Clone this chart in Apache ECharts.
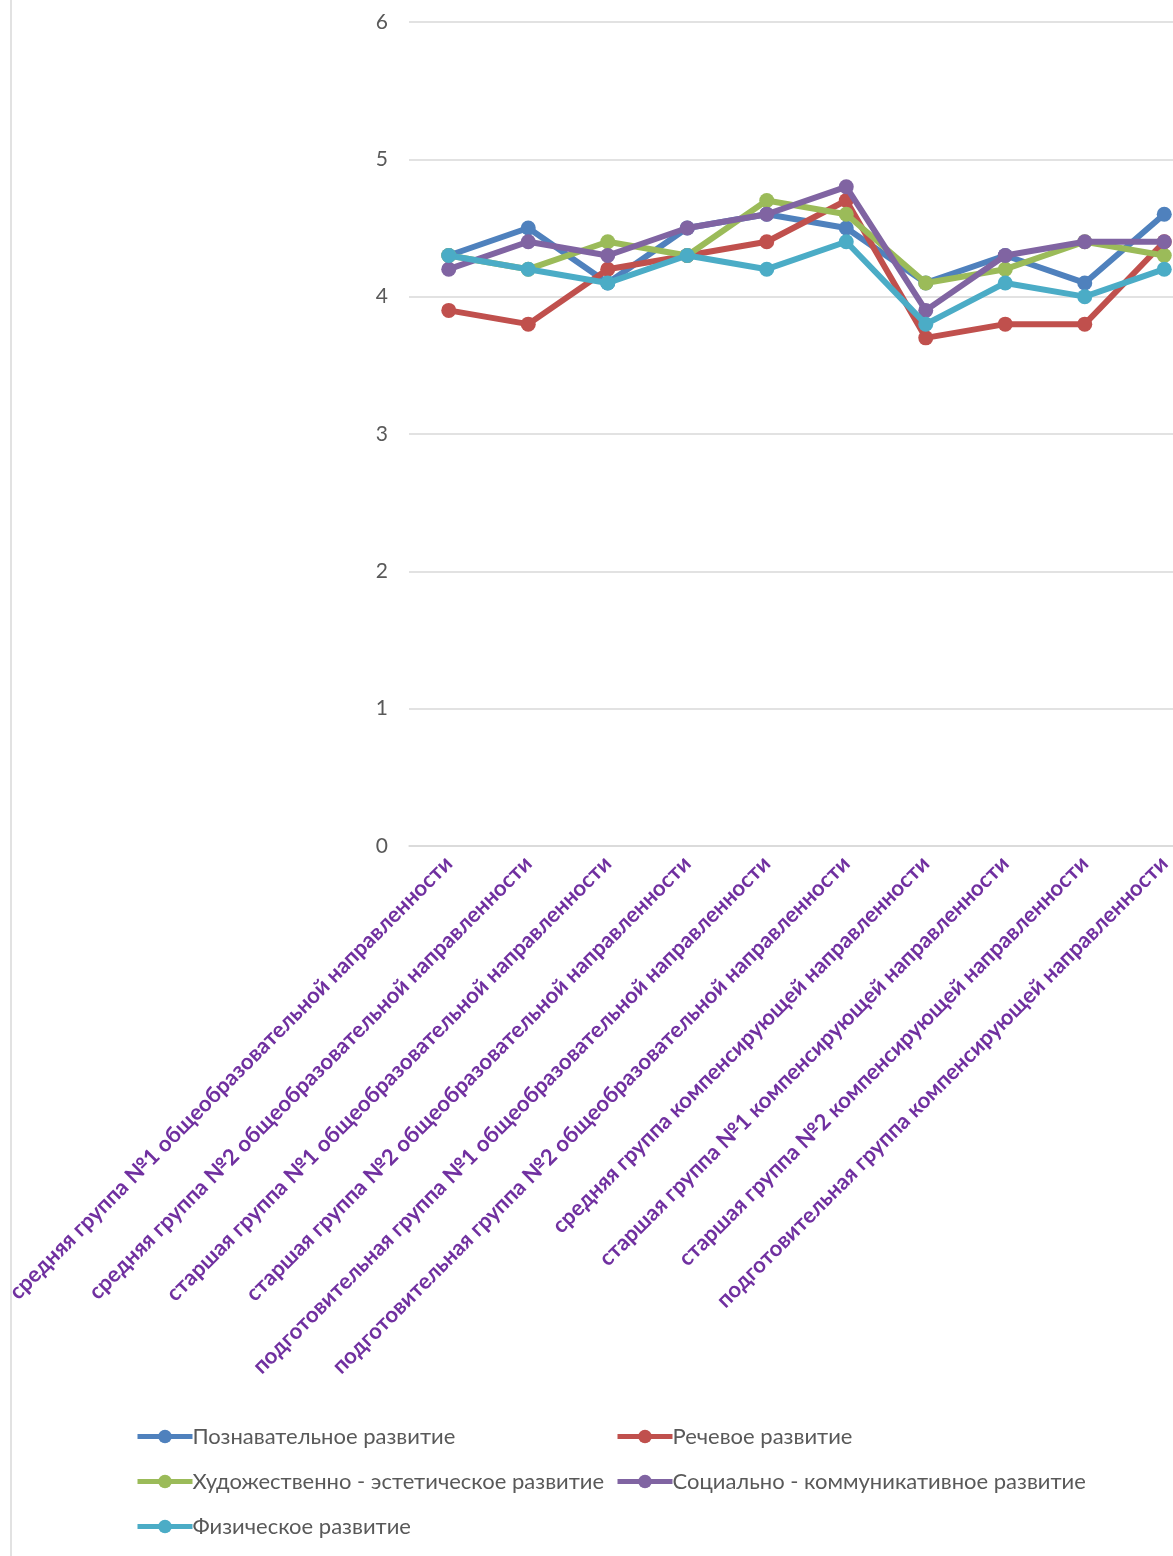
<!DOCTYPE html>
<html>
<head>
<meta charset="utf-8">
<script src="https://cdn.jsdelivr.net/npm/echarts@6/dist/echarts.min.js"></script>
<style>
html,body{margin:0;padding:0;background:#fff;overflow:hidden;}
#c{width:1215px;height:1556px;}
</style>
</head>
<body>
<div id="c"></div>
<script>
const categories = [
  'средняя группа №1 общеобразовательной направленности',
  'средняя группа №2 общеобразовательной направленности',
  'старшая группа №1 общеобразовательной направленности',
  'старшая группа №2 общеобразовательной направленности',
  'подготовительная группа №1 общеобразовательной направленности',
  'подготовительная группа №2 общеобразовательной направленности',
  'средняя группа компенсирующей направленности',
  'старшая группа №1 компенсирующей направленности',
  'старшая группа №2 компенсирующей направленности',
  'подготовительная группа компенсирующей направленности'
];
const seriesNames = [
  'Познавательное развитие',
  'Речевое развитие',
  'Художественно - эстетическое развитие',
  'Социально - коммуникативное развитие',
  'Физическое развитие'
];
const cognitive = [4.3, 4.5, 4.1, 4.5, 4.6, 4.5, 4.1, 4.3, 4.1, 4.6];
const speech    = [3.9, 3.8, 4.2, 4.3, 4.4, 4.7, 3.7, 3.8, 3.8, 4.4];
const artistic  = [4.3, 4.2, 4.4, 4.3, 4.7, 4.6, 4.1, 4.2, 4.4, 4.3];
const social    = [4.2, 4.4, 4.3, 4.5, 4.6, 4.8, 3.9, 4.3, 4.4, 4.4];
const physical  = [4.3, 4.2, 4.1, 4.3, 4.2, 4.4, 3.8, 4.1, 4.0, 4.2];
const yTicks = [0, 1, 2, 3, 4, 5, 6];

const colors = ['#4F81BD', '#C0504D', '#9BBB59', '#8064A2', '#4BACC6'];
const values = [cognitive, speech, artistic, social, physical];

const chart = echarts.init(document.getElementById('c'), null, {renderer: 'canvas'});
const font = 'Lato, "Open Sans", sans-serif';

const legendCommon = {
  orient: 'vertical', top: 1425, itemGap: 22, padding: 0,
  itemWidth: 55, itemHeight: 17,
  lineStyle: {width: 5},
  textStyle: {fontFamily: font, fontSize: 22, lineHeight: 23, color: '#595959', padding: [0, 0, 0, -5]}
};

chart.setOption({
  animation: false,
  backgroundColor: '#fff',
  color: colors,
  grid: {left: 409, top: 22, width: 795, height: 824, containLabel: false},
  legend: [
    Object.assign({left: 135, data: [seriesNames[0], seriesNames[2], seriesNames[4]]}, legendCommon),
    Object.assign({left: 615, data: [seriesNames[1], seriesNames[3]]}, legendCommon)
  ],
  xAxis: {
    type: 'category',
    data: categories,
    boundaryGap: true,
    axisLine: {show: true, lineStyle: {color: '#D9D9D9', width: 1.5}},
    axisTick: {show: false},
    axisLabel: {
      rotate: 45, interval: 0, margin: 14,
      fontFamily: font, fontSize: 22, fontWeight: 'bold', color: '#7030A0'
    }
  },
  yAxis: {
    type: 'value',
    min: yTicks[0], max: yTicks[yTicks.length - 1], interval: 1,
    axisLine: {show: false},
    axisTick: {show: false},
    splitLine: {lineStyle: {color: '#D9D9D9', width: 1.5}},
    axisLabel: {margin: 21, fontFamily: font, fontSize: 21, color: '#595959'}
  },
  graphic: [
    {type: 'rect', z: 100, shape: {x: 0, y: 0, width: 10, height: 1556}, style: {fill: '#fff'}},
    {type: 'line', z: 101, shape: {x1: 11, y1: 0, x2: 11, y2: 1556}, style: {stroke: '#D9D9D9', lineWidth: 1.5}}
  ],
  series: seriesNames.map((name, i) => ({
    name: name,
    type: 'line',
    data: values[i],
    symbol: 'circle',
    symbolSize: 15,
    lineStyle: {width: 6, color: colors[i]},
    itemStyle: {color: colors[i]},
    z: 2 + i
  }))
});
</script>
</body>
</html>
